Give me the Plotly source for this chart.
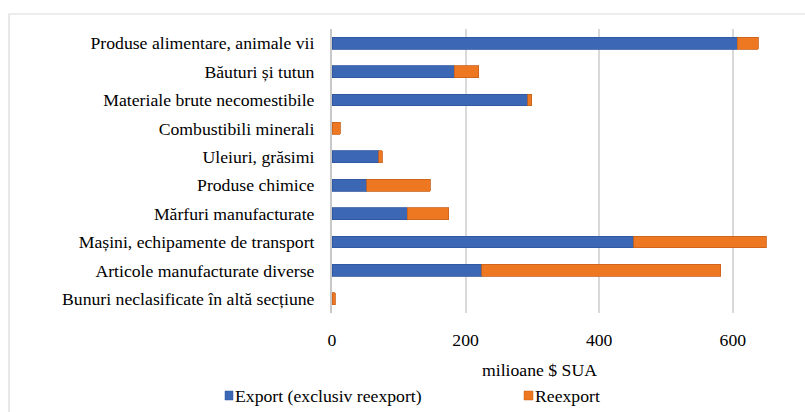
import plotly.graph_objects as go

categories = [
    "Produse alimentare, animale vii",
    "Băuturi și tutun",
    "Materiale brute necomestibile",
    "Combustibili minerali",
    "Uleiuri, grăsimi",
    "Produse chimice",
    "Mărfuri manufacturate",
    "Mașini, echipamente de transport",
    "Articole manufacturate diverse",
    "Bunuri neclasificate în altă secțiune",
]
export_vals = [607, 183, 293, 0, 70, 52, 113, 452, 224, 0]
reexport_vals = [31, 37, 6, 12, 5, 95, 62, 198, 358, 5]
tick_vals = [0, 200, 400, 600]
series_names = ["Export (exclusiv reexport)", "Reexport"]

BLUE = "#3B67B5"
ORANGE = "#EE7722"
FONT = "Liberation Serif"
FS = 17.7

W, H = 805, 412
ML, MR, MT, MB = 332, 0, 29, 99
PW, PH = W - ML - MR, H - MT - MB


def px_x(px):
    return (px - ML) / PW


def px_y(py):
    return (H - MB - py) / PH


fig = go.Figure()
fig.add_trace(go.Bar(
    y=categories, x=export_vals, orientation="h", name=series_names[0],
    marker=dict(color=BLUE, line=dict(color="#2F559C", width=0.8)),
))
fig.add_trace(go.Bar(
    y=categories, x=reexport_vals, orientation="h", name=series_names[1],
    marker=dict(color=ORANGE, line=dict(color="#C8611A", width=0.8)),
))

fig.update_layout(
    width=W, height=H,
    margin=dict(l=ML, r=MR, t=MT, b=MB, autoexpand=False),
    barmode="stack", bargap=0.58,
    plot_bgcolor="white", paper_bgcolor="white",
    showlegend=False,
    font=dict(family=FONT, size=FS, color="black"),
    xaxis=dict(
        range=[0, (W - ML) / 0.668],
        tickvals=tick_vals, ticktext=[str(v) for v in tick_vals],
        showgrid=True, gridcolor="#D9D9D9", gridwidth=1.5,
        zeroline=False, showline=False, ticks="",
        ticklabelstandoff=14, automargin=False,
        tickfont=dict(family=FONT, size=FS, color="black"),
        fixedrange=True,
    ),
    yaxis=dict(
        autorange="reversed",
        showgrid=False, zeroline=False,
        showline=True, linecolor="#C8C8C8", linewidth=2,
        ticks="", ticklabelstandoff=12, automargin=False,
        tickfont=dict(family=FONT, size=FS, color="black"),
        fixedrange=True,
    ),
)

shapes = [
    dict(type="rect", xref="paper", yref="paper",
         x0=px_x(9), x1=px_x(W + 5), y0=px_y(H + 5), y1=px_y(14),
         line=dict(color="#D9D9D9", width=1.2), fillcolor="rgba(0,0,0,0)",
         layer="below"),
    dict(type="rect", xref="paper", yref="paper",
         x0=px_x(225), x1=px_x(233), y0=px_y(400), y1=px_y(391),
         line=dict(color="#2F559C", width=0.5), fillcolor=BLUE),
    dict(type="rect", xref="paper", yref="paper",
         x0=px_x(524), x1=px_x(533), y0=px_y(400), y1=px_y(391),
         line=dict(color="#C8611A", width=0.5), fillcolor=ORANGE),
]
fig.update_layout(shapes=shapes)

annotations = [
    dict(text="milioane $ SUA", xref="paper", yref="paper",
         x=px_x(539), y=px_y(370), showarrow=False,
         xanchor="center", yanchor="middle",
         font=dict(family=FONT, size=FS, color="black")),
    dict(text=series_names[0], xref="paper", yref="paper",
         x=px_x(233), y=px_y(396), showarrow=False,
         xanchor="left", yanchor="middle",
         font=dict(family=FONT, size=FS, color="black")),
    dict(text=series_names[1], xref="paper", yref="paper",
         x=px_x(533), y=px_y(396), showarrow=False,
         xanchor="left", yanchor="middle",
         font=dict(family=FONT, size=FS, color="black")),
]
fig.update_layout(annotations=annotations)

fig.write_html(
    "out.html",
    config={"displayModeBar": False},
    post_script="document.body.style.margin='0';document.body.style.padding='0';",
)
